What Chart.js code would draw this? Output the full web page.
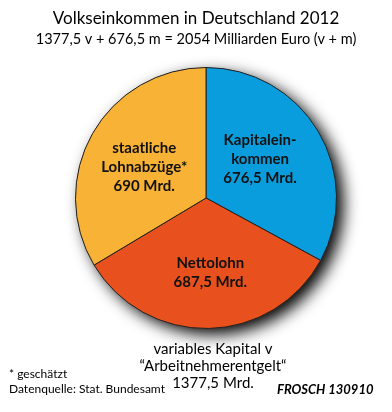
<!DOCTYPE html>
<html lang="de">
<head>
  <meta charset="UTF-8">
  <script src="https://cdn.jsdelivr.net/npm/chart.js"></script>
  <title>Volkseinkommen in Deutschland 2012</title>
  <style>
    body { margin: 0; background: #fff; }
    .chart-box { width: 392px; height: 412px; }
  </style>
</head>
<body>
  <div class="chart-box">
    <canvas id="volkseinkommen"></canvas>
  </div>

  <script>
    // Daten (Mrd. Euro)
    const kategorien = ["Kapitaleinkommen", "Nettolohn", "staatliche Lohnabzüge"];
    const werte = [676.5, 687.5, 690];
    const farben = ["#0A9DDD", "#E8511D", "#F8B235"];
    const beschriftungen = [
      ["Kapitalein-", "kommen", "676,5 Mrd."],
      ["Nettolohn", "687,5 Mrd."],
      ["staatliche", "Lohnabzüge*", "690 Mrd."]
    ];
    // Verschiebung der Beschriftung relativ zum Schwerpunkt des Segments
    const versatz = [[-2, -6], [3, 9], [-5, 1]];

    const titel = "Volkseinkommen in Deutschland 2012";
    const untertitel = "1377,5 v + 676,5 m = 2054 Milliarden Euro (v + m)";
    const unterText = ["variables Kapital v", "\u201CArbeitnehmerentgelt\u201C", "1377,5 Mrd."];
    const fussnoten = ["* geschätzt", "Datenquelle: Stat. Bundesamt"];
    const signatur = "FROSCH 130910";

    const FONT = "Lato, 'Open Sans', sans-serif";

    // Schatten unter dem Kreis
    const schatten = {
      id: "schatten",
      beforeDatasetsDraw(chart) {
        const arc = chart.getDatasetMeta(0).data[0];
        if (!arc) return;
        const ctx = chart.ctx;
        ctx.save();
        ctx.shadowColor = "rgba(0,0,0,1)";
        ctx.shadowBlur = 16;
        ctx.shadowOffsetX = 7;
        ctx.shadowOffsetY = 6;
        ctx.fillStyle = "#333";
        ctx.beginPath();
        ctx.arc(arc.x, arc.y, arc.outerRadius, 0, Math.PI * 2);
        ctx.fill();
        ctx.restore();
      }
    };

    const texte = {
      id: "texte",
      afterDraw(chart) {
        const ctx = chart.ctx;
        ctx.save();
        ctx.fillStyle = "#111";
        ctx.textAlign = "center";
        ctx.textBaseline = "middle";

        // Segmentbeschriftungen
        ctx.font = "bold 15px " + FONT;
        chart.getDatasetMeta(0).data.forEach((arc, i) => {
          const p = arc.tooltipPosition();
          const zeilen = beschriftungen[i];
          const x = p.x + versatz[i][0];
          const y0 = p.y + versatz[i][1] - (zeilen.length - 1) * 19 / 2;
          zeilen.forEach((z, j) => ctx.fillText(z, x, y0 + j * 19));
        });

        // Titel
        ctx.fillStyle = "#000";
        ctx.font = "17px " + FONT;
        ctx.fillText(titel, 196, 19);
        ctx.font = "14.5px " + FONT;
        ctx.fillText(untertitel, 196, 39);

        // Text unter dem Kreis
        ctx.font = "15px " + FONT;
        unterText.forEach((z, j) => ctx.fillText(z, 213, 349 + j * 17));

        // Fussnoten
        ctx.textAlign = "left";
        ctx.font = "12px " + FONT;
        fussnoten.forEach((z, j) => ctx.fillText(z, 9, 374 + j * 15));

        // Signatur
        ctx.font = "italic bold 13px " + FONT;
        ctx.fillText(signatur, 277, 390);
        ctx.restore();
      }
    };

    new Chart(document.getElementById("volkseinkommen"), {
      type: "pie",
      data: {
        labels: kategorien,
        datasets: [{
          data: werte,
          backgroundColor: farben,
          borderColor: "#222",
          borderWidth: 1,
          hoverOffset: 0,
          offset: 0
        }]
      },
      options: {
        responsive: true,
        maintainAspectRatio: false,
        animation: false,
        rotation: 0,
        layout: {
          padding: { left: 75, right: 55, top: 67, bottom: 83 }
        },
        plugins: {
          legend: { display: false },
          tooltip: { enabled: false },
          title: { display: false }
        }
      },
      plugins: [schatten, texte]
    });
  </script>
</body>
</html>
